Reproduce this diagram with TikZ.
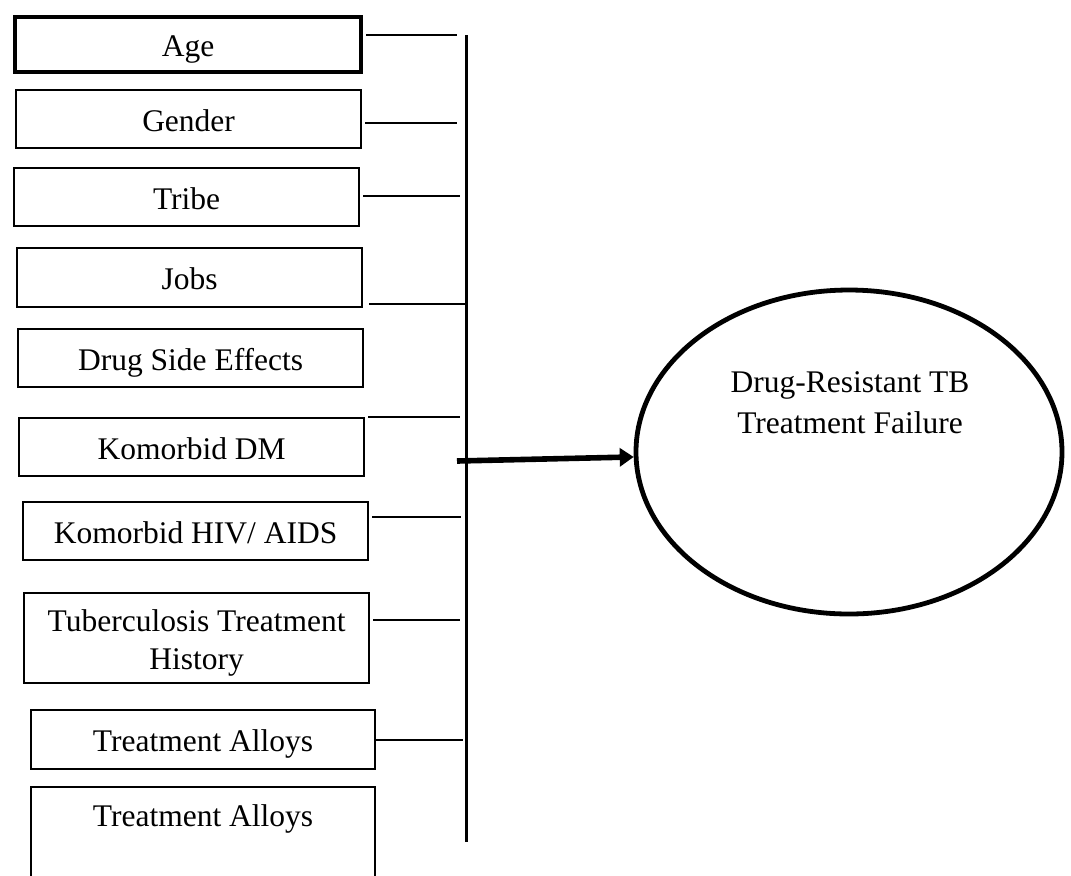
\documentclass[tikz,border=0pt]{standalone}
\usepackage{fontspec}
\setmainfont{Liberation Serif}
\usetikzlibrary{shapes.geometric,arrows.meta,positioning}

\begin{document}
\begin{tikzpicture}[x=0.5pt,y=-0.5pt]
		\tikzstyle{Factor}	= [draw, line width=1.1pt, anchor=north west, inner sep=0pt, minimum width=172.5pt, minimum height=29pt, font=\fontsize{15.75pt}{18.9pt}\selectfont]
		\tikzstyle{OneLine}	= [text height=12pt, text depth=0pt]
		\tikzstyle{Heavy}	= [line width=2pt]
		\tikzstyle{Outcome}	= [draw, ellipse, line width=2.4pt, inner sep=0pt, minimum width=213pt, minimum height=162pt]
		\tikzstyle{Link}	= [line width=0.9pt, shorten <=1.5pt]
		\tikzstyle{Bus}		= [line width=1.5pt]
		\tikzstyle{Effect}	= [line width=2.8pt, -{Triangle[length=7pt,width=9pt]}]

		\useasboundingbox (0,0) rectangle (1071,875);

		% factors
		\node (age) at (13,15) [Factor, OneLine, Heavy, minimum width=173pt, minimum height=27.5pt] {Age};
		\node (gender) at (15,89) [Factor, OneLine] {Gender};
		\node (tribe) at (13,167) [Factor, OneLine] {Tribe};
		\node (jobs) at (16,247) [Factor, OneLine, minimum height=29.5pt] {Jobs};
		\node (side) at (17,328) [Factor, OneLine] {Drug Side Effects};
		\node (dm) at (18,417) [Factor, OneLine] {Komorbid DM};
		\node (hiv) at (22,501) [Factor, OneLine] {Komorbid HIV/ AIDS};
		\node (tbhist) at (23,592) [Factor, align=center, minimum height=45pt, text height=31pt, text depth=0pt] {Tuberculosis Treatment\\History};
		\node (alloys) at (30,709) [Factor, OneLine, minimum width=172pt, minimum height=29.5pt] {Treatment Alloys};
		\node (alloysB) at (30,786) [Factor, minimum width=172pt, minimum height=50pt, text height=12pt, text depth=23pt] {Treatment Alloys};

		% outcome
		\node (outcome) at (849,452) [Outcome] {};
		\node (outcomeText) at (850,371) [anchor=north, inner sep=0pt, align=center, font=\fontsize{15.75pt}{20.5pt}\selectfont] {Drug-Resistant TB\\Treatment Failure};

		% bus line
		\coordinate (busTop) at (466,35);
		\coordinate (busBottom) at (466,842);
		\draw [Bus] (busTop) -- (busBottom);

		\coordinate (bAge) at (457,35);
		\coordinate (bGender) at (457,123);
		\coordinate (bTribe) at (460,196);
		\coordinate (bJobs) at (466,304);
		\coordinate (bDm) at (460,417);
		\coordinate (bHiv) at (461,517);
		\coordinate (bTb) at (460,620);
		\coordinate (bAlloys) at (463,740);

		\draw [Link] (age.east |- bAge) -- (bAge);
		\draw [Link] (gender.east |- bGender) -- (bGender);
		\draw [Link] (tribe.east |- bTribe) -- (bTribe);
		\draw [Link, shorten <=3pt] (jobs.east |- bJobs) -- (bJobs);
		\draw [Link] (dm.east |- bDm) -- (bDm);
		\draw [Link] (hiv.east |- bHiv) -- (bHiv);
		\draw [Link] (tbhist.east |- bTb) -- (bTb);
		\draw [Link, shorten <=0pt] (alloys.east |- bAlloys) -- (bAlloys);

		\coordinate (arrowStart) at (457,461);
		\draw [Effect] (arrowStart) -- (outcome);
	\end{tikzpicture}
\end{document}
